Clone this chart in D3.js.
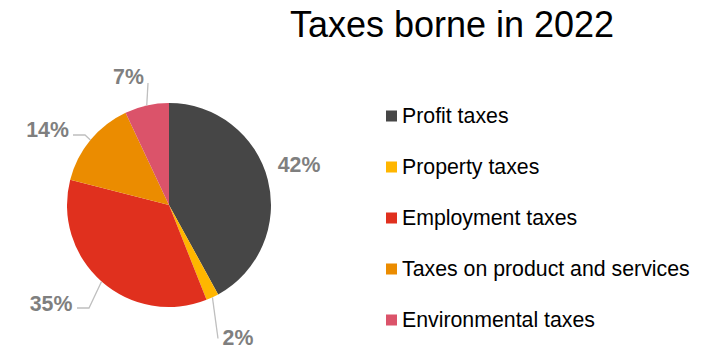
<!DOCTYPE html>
<html>
<head>
<meta charset="utf-8">
<script src="https://cdn.jsdelivr.net/npm/d3@7"></script>
<style>
  html, body { margin: 0; padding: 0; background: #ffffff; }
  svg { display: block; }
</style>
</head>
<body>
<svg id="chart" width="718" height="350"></svg>
<script>
// Share of total taxes borne, by tax type (percent)
const categories = ["Profit taxes", "Property taxes", "Employment taxes", "Taxes on product and services", "Environmental taxes"];
const shares = [42, 2, 35, 14, 7];
const colors = ["#464646", "#FFB600", "#E0301E", "#EB8C00", "#DB536A"];
const title = "Taxes borne in 2022";

// Label placement for each slice: text centre x, baseline y and optional leader elbow/end
const labelLayout = [
  { x: 299, y: 171.5, leader: null },
  { x: 238, y: 345.3, leader: [[218, 338.5]] },
  { x: 51,  y: 310.5, leader: [[89, 308], [77, 308]] },
  { x: 47.5,y: 136.5, leader: [[85, 135], [73, 135]] },
  { x: 128.5, y: 83.5, leader: [[148, 83]] }
];

const svg = d3.select("#chart");
const cx = 169, cy = 205, radius = 102;
const font = "'Liberation Sans', Arial, sans-serif";

svg.append("text")
  .attr("x", 452).attr("y", 37)
  .attr("text-anchor", "middle")
  .attr("font-family", font)
  .attr("font-size", 36)
  .attr("fill", "#000")
  .text(title);

const pie = d3.pie().sort(null).value(d => d)(shares);
const arc = d3.arc().innerRadius(0).outerRadius(radius);

const g = svg.append("g").attr("transform", `translate(${cx},${cy})`);

g.selectAll("path.slice")
  .data(pie)
  .join("path")
  .attr("class", "slice")
  .attr("d", arc)
  .attr("fill", (d, i) => colors[i]);

// Leader lines start on the rim at each slice's mid-angle
const line = d3.line();
pie.forEach((d, i) => {
  const lay = labelLayout[i];
  if (!lay.leader) return;
  const mid = (d.startAngle + d.endAngle) / 2;
  const start = [cx + radius * Math.sin(mid), cy - radius * Math.cos(mid)];
  svg.append("path")
    .attr("d", line([start, ...lay.leader]))
    .attr("fill", "none")
    .attr("stroke", "#bfbfbf")
    .attr("stroke-width", 1.3);
});

svg.selectAll("text.pct")
  .data(pie)
  .join("text")
  .attr("class", "pct")
  .attr("x", (d, i) => labelLayout[i].x)
  .attr("y", (d, i) => labelLayout[i].y)
  .attr("text-anchor", "middle")
  .attr("font-family", font)
  .attr("font-weight", "bold")
  .attr("font-size", 21.3)
  .attr("fill", "#7f7f7f")
  .text(d => d3.format(".0f")(d.data) + "%");

// Legend
const legendY = d3.scalePoint().domain(categories).range([116, 320]);
const legend = svg.append("g");
const rows = legend.selectAll("g")
  .data(categories)
  .join("g")
  .attr("transform", d => `translate(386,${legendY(d)})`);
rows.append("rect")
  .attr("x", 0).attr("y", -5.5)
  .attr("width", 11).attr("height", 11)
  .attr("fill", (d, i) => colors[i]);
rows.append("text")
  .attr("x", 16).attr("y", 7)
  .attr("font-family", font)
  .attr("font-size", 21.3)
  .attr("fill", "#000")
  .text(d => d);
</script>
</body>
</html>
